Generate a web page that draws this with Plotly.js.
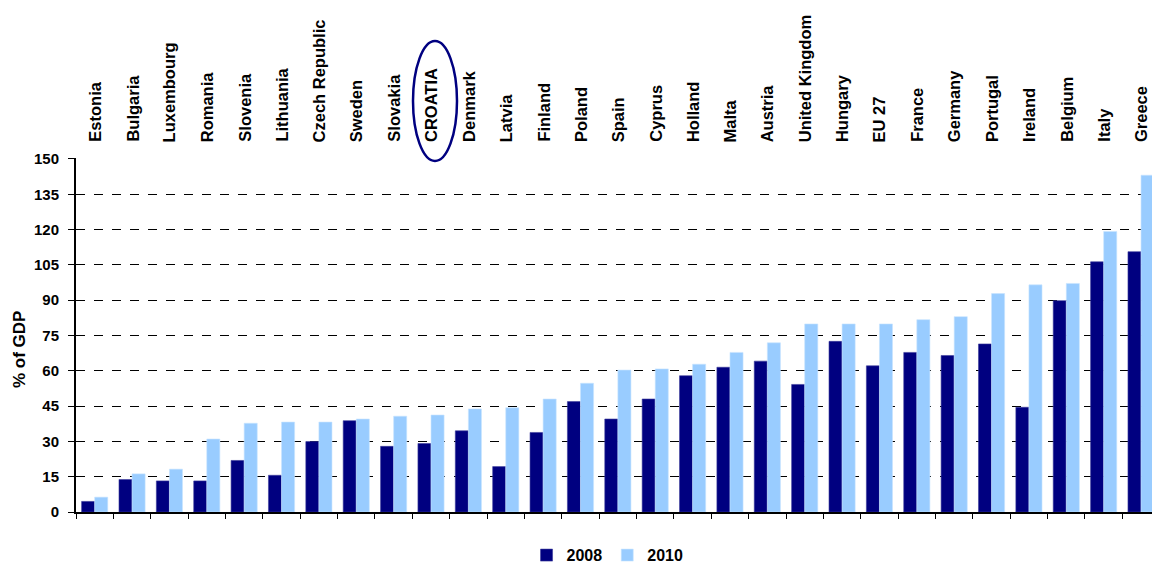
<!DOCTYPE html>
<html>
<head>
<meta charset="utf-8">
<script src="https://cdn.plot.ly/plotly-3.0.1.min.js"></script>
<style>html,body{margin:0;padding:0;background:#fff;overflow:hidden}#chart{width:1152px;height:565px}</style>
</head>
<body>
<div id="chart"></div>
<script>
var countries = ["Estonia","Bulgaria","Luxembourg","Romania","Slovenia","Lithuania","Czech Republic","Sweden","Slovakia","CROATIA","Denmark","Latvia","Finland","Poland","Spain","Cyprus","Holland","Malta","Austria","United Kingdom","Hungary","EU 27","France","Germany","Portugal","Ireland","Belgium","Italy","Greece"];
var debt2008 = [4.5,13.8,13.2,13.2,21.9,15.6,29.9,38.8,27.9,29.1,34.5,19.3,33.8,46.9,39.5,48.0,57.9,61.5,64.1,54.2,72.5,62.1,67.8,66.5,71.4,44.5,89.8,106.3,110.6];
var debt2010 = [6.3,16.2,18.2,31.0,37.7,38.2,38.2,39.5,40.7,41.2,43.8,44.3,48.0,54.7,60.3,60.8,62.8,67.8,71.9,79.9,79.9,79.9,81.7,83.0,92.8,96.5,97.1,119.2,143.1];
var yTicks = [0,15,30,45,60,75,90,105,120,135,150];
var seriesNames = ["2008","2010"];
var yTitle = "% of GDP";

var font = "Arial, 'Liberation Sans', sans-serif";
var xEnd = -0.5 + 1076/37.37;
var yTop = 150.4;

var traces = [
  {type:"bar", name:seriesNames[0], x:countries, y:debt2008,
   marker:{color:"#000080", line:{color:"#3a3a9a", width:0.6}}},
  {type:"bar", name:seriesNames[1], x:countries, y:debt2010,
   marker:{color:"#99CCFF", line:{color:"#c8e4ff", width:0.6}}}
];

var annotations = countries.map(function(c){
  return {xref:"x", yref:"paper", x:c, y:1, yshift:14,
          xanchor:"center", yanchor:"bottom", textangle:-90, showarrow:false,
          text:c, font:{family:font, size:16.5, weight:"bold", color:"#000"}};
});
annotations.push({xref:"paper", yref:"paper", x:(19-76)/1076, y:(512-350)/354,
  xanchor:"center", yanchor:"middle", textangle:-90, showarrow:false,
  text:yTitle, font:{family:font, size:17, weight:"bold", color:"#000"}});

var layout = {
  width:1152, height:565,
  margin:{l:76, r:0, t:158, b:53, pad:0, autoexpand:false},
  paper_bgcolor:"#fff", plot_bgcolor:"#fff",
  font:{family:font, color:"#000", size:15},
  barmode:"group", bargap:0.30, bargroupgap:0,
  showlegend:true,
  legend:{orientation:"h", x:0.494, xanchor:"center", y:-0.074, yanchor:"top",
          font:{family:font, size:16, weight:"bold", color:"#000"},
          itemwidth:30, traceorder:"normal"},
  xaxis:{type:"category", categoryorder:"array", categoryarray:countries,
         range:[-0.5, xEnd], showticklabels:false, tickson:"boundaries",
         ticks:"outside", ticklen:5, tickwidth:1, tickcolor:"#000",
         showline:true, linecolor:"#000", linewidth:2, showgrid:false,
         zeroline:false, fixedrange:true},
  yaxis:{range:[0,yTop], tickmode:"array", tickvals:yTicks,
         tickfont:{family:font, size:15, weight:"bold", color:"#000"},
         ticks:"outside", ticklen:6, tickwidth:1, tickcolor:"#000",
         ticklabelstandoff:6,
         showline:true, linecolor:"#000", linewidth:2,
         showgrid:true, gridcolor:"#000", gridwidth:1, griddash:"dash",
         zeroline:false},
  annotations:annotations,
  shapes:[
    {type:"circle", xref:"paper", yref:"paper",
     x0:(413-76)/1076, x1:(457-76)/1076, y0:(512-161)/354, y1:(512-41)/354,
     line:{color:"#000080", width:2.5}, fillcolor:"rgba(0,0,0,0)", layer:"above"}
  ]
};

Plotly.newPlot("chart", traces, layout, {displayModeBar:false, staticPlot:true});
</script>
</body>
</html>
